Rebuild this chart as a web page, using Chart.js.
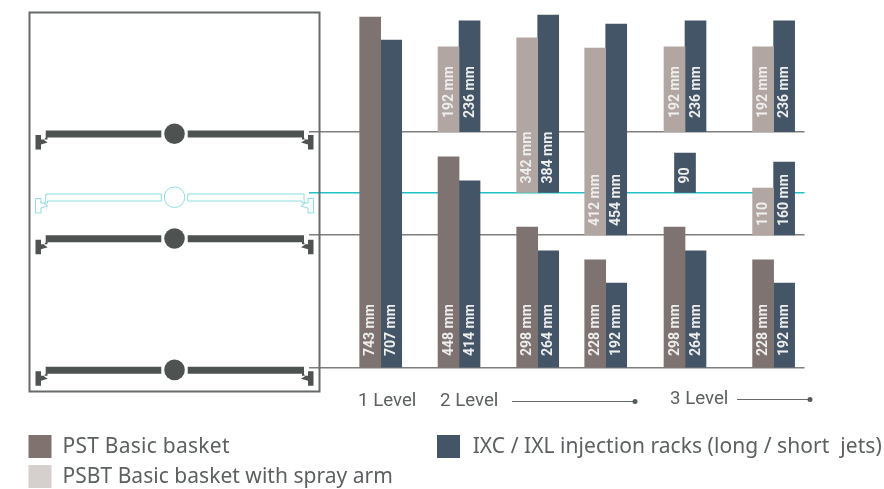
<!DOCTYPE html>
<html>
<head>
<meta charset="utf-8">
<style>
  html, body { margin: 0; padding: 0; background: #fff; }
  canvas { display: block; }
</style>
<script src="https://cdn.jsdelivr.net/npm/chart.js@4"></script>
</head>
<body>
<canvas id="myChart" width="884" height="489"></canvas>
<script>
// where each rack combination sits along the axis, in bar widths
var groupAt = [0, 3.73, 7.476, 10.714, 14.49, 18.71];

// basket levels (mm from the rack floor)
var levels = [0, 281.5, 371.5, 500.5];

// lower tier, standing on the floor
var pstTop = [743, 447, 298.5, 229, 298.5, 229];
var pstLabels = ['743 mm', '448 mm', '298 mm', '228 mm', '298 mm', '228 mm'];
var ixcLowTop = [694, 396, 248, 180, 248, 180];
var ixcLowLabels = ['707 mm', '414 mm', '264 mm', '192 mm', '264 mm', '192 mm'];

// upper tier
var psbtUpFrom = [null, 500.5, 371.5, 281.5, 500.5, 500.5];
var psbtUpTop = [null, 680, 699, 677, 680, 680];
var psbtUpLabels = ['', '192 mm', '342 mm', '412 mm', '192 mm', '192 mm'];
var ixcUpFrom = [null, 500.5, 371.5, 281.5, 500.5, 500.5];
var ixcUpTop = [null, 735, 747, 728, 735, 735];
var ixcUpLabels = ['', '236 mm', '384 mm', '454 mm', '236 mm', '236 mm'];

// middle tier of the 3 level racks
var psbtMidFrom = [null, null, null, null, null, 281.5];
var psbtMidTop = [null, null, null, null, null, 381];
var psbtMidLabels = ['', '', '', '', '', '110'];
var ixcMidFrom = [null, null, null, null, 371.5, 281.5];
var ixcMidTop = [null, null, null, null, 455, 436];
var ixcMidLabels = ['', '', '', '', '90', '160 mm'];

var pstColor = '#7e7370';
var psbtColor = '#b1a6a1';
var ixcColor = '#435567';
var textColor = '#5c6061';
var basketColor = '#4e5352';
var cyan = '#1fc1c7';

function rows(from, top, labels, side) {
  var out = [];
  for (var i = 0; i < top.length; i++) {
    if (top[i] == null) continue;
    var s = typeof side == 'function' ? side(i) : side;
    out.push({ x: groupAt[i] + s, y: [from ? from[i] : 0, top[i]], label: labels[i] });
  }
  return out;
}

function tierSet(name, color, data) {
  return { label: name, data: data, backgroundColor: color, borderWidth: 0, barThickness: 21, grouped: false };
}

// one basket drawn from its top edge
function basket(ctx, y, outline) {
  var parts = [
    [[45.7, y], [161.3, y], [161.3, y + 7], [47.5, y + 7], [47.5, y + 9], [41, y + 9], [41, y + 4.5], [35.5, y + 4.5], [35.5, y + 19], [41, y + 19], [41, y + 14], [47.7, y + 12], [44, y + 9.5], [45.7, y + 7]],
    [[304, y], [187.7, y], [187.7, y + 7], [302, y + 7], [302, y + 9], [308, y + 9], [308, y + 4.5], [313.5, y + 4.5], [313.5, y + 19], [308, y + 19], [308, y + 14], [301, y + 12], [305, y + 9.5], [304, y + 7]]
  ];
  ctx.save();
  parts.forEach(function (p) {
    ctx.beginPath();
    p.forEach(function (pt, i) { i ? ctx.lineTo(pt[0], pt[1]) : ctx.moveTo(pt[0], pt[1]); });
    ctx.closePath();
    if (outline) { ctx.strokeStyle = '#8fdde0'; ctx.lineWidth = 1; ctx.stroke(); }
    else { ctx.fillStyle = basketColor; ctx.fill(); }
  });
  ctx.beginPath();
  ctx.arc(174.5, y + 3.2, 10.3, 0, Math.PI * 2);
  if (outline) { ctx.strokeStyle = '#8fdde0'; ctx.lineWidth = 1; ctx.stroke(); }
  else { ctx.fillStyle = basketColor; ctx.fill(); }
  ctx.restore();
}

function leader(ctx, x1, x2, y) {
  ctx.strokeStyle = '#666a69';
  ctx.lineWidth = 1;
  ctx.beginPath();
  ctx.moveTo(x1, y);
  ctx.lineTo(x2, y);
  ctx.stroke();
  ctx.fillStyle = '#555a5a';
  ctx.beginPath();
  ctx.arc(x2, y, 2.5, 0, Math.PI * 2);
  ctx.fill();
}

function legendRow(ctx, color, x, y, text, textX, spacing) {
  ctx.fillStyle = color;
  ctx.fillRect(x, y, 23, 23);
  ctx.fillStyle = textColor;
  ctx.font = '21px "Noto Sans"';
  ctx.letterSpacing = spacing;
  ctx.fillText(text, textX, y + 18);
  ctx.letterSpacing = '0px';
}

// rack drawing, bar captions, level labels and legend
var extras = {
  id: 'extras',
  afterDatasetsDraw: function (chart) {
    var ctx = chart.ctx;
    var yScale = chart.scales.y;

    ctx.save();
    ctx.strokeStyle = '#666a69';
    ctx.lineWidth = 2;
    ctx.strokeRect(29.5, 12.5, 290, 379);
    basket(ctx, yScale.getPixelForValue(levels[3]) - 1);
    basket(ctx, yScale.getPixelForValue(levels[2]) + 1.5, true);
    basket(ctx, yScale.getPixelForValue(levels[1]) + 0.3);
    basket(ctx, yScale.getPixelForValue(levels[0]) - 1.3);

    // rotated captions inside the bars
    ctx.font = 'bold 14px Roboto';
    ctx.fillStyle = '#eeeeee';
    ctx.textAlign = 'left';
    ctx.textBaseline = 'middle';
    chart.data.datasets.forEach(function (set, d) {
      chart.getDatasetMeta(d).data.forEach(function (bar, i) {
        var from = set.data[i].y[0];
        var lift = from == 0 ? 12 : (from == 500.5 ? 13.5 : 9);
        ctx.save();
        ctx.translate(bar.x + 0.5, yScale.getPixelForValue(from) - lift);
        ctx.rotate(-Math.PI / 2);
        ctx.fillText(set.data[i].label, 0, 0);
        ctx.restore();
      });
    });

    ctx.textBaseline = 'alphabetic';
    ctx.fillStyle = textColor;
    ctx.font = '18.7px Roboto';
    ctx.fillText('1 Level', 358, 406);
    ctx.fillText('2 Level', 440, 406);
    ctx.fillText('3 Level', 670, 404);
    leader(ctx, 512, 635, 401.5);
    leader(ctx, 737, 810, 399.5);

    legendRow(ctx, '#80736f', 28.5, 435, 'PST Basic basket', 62.5, '0.25px');
    legendRow(ctx, '#d5cfcd', 28.5, 465, 'PSBT Basic basket with spray arm', 62.5, '0.03px');
    legendRow(ctx, ixcColor, 437, 435, 'IXC / IXL injection racks (long / short  jets)', 472.7, '0.05px');
    ctx.restore();
  }
};

new Chart(document.getElementById('myChart').getContext('2d'), {
  type: 'bar',
  data: {
    datasets: [
      tierSet('PST Basic basket', pstColor, rows(null, pstTop, pstLabels, -0.5)),
      tierSet('IXC / IXL lower', ixcColor, rows(null, ixcLowTop, ixcLowLabels, 0.5)),
      tierSet('PSBT upper', psbtColor, rows(psbtUpFrom, psbtUpTop, psbtUpLabels, -0.5)),
      tierSet('IXC / IXL upper', ixcColor, rows(ixcUpFrom, ixcUpTop, ixcUpLabels, 0.5)),
      tierSet('PSBT middle', psbtColor, rows(psbtMidFrom, psbtMidTop, psbtMidLabels, -0.5)),
      tierSet('IXC / IXL middle', ixcColor, rows(ixcMidFrom, ixcMidTop, ixcMidLabels, function (i) {
        return psbtMidTop[i] == null ? 0 : 0.5;
      }))
    ]
  },
  options: {
    responsive: false,
    animation: false,
    layout: { padding: { left: 309, right: 79.5, top: 0, bottom: 121 } },
    plugins: { legend: { display: false }, tooltip: { enabled: false } },
    scales: {
      x: { type: 'linear', display: false, offset: false, min: -3.414, max: 20.18 },
      y: {
        min: 0,
        max: 779,
        afterBuildTicks: function (scale) {
          scale.ticks = levels.map(function (v) { return { value: v }; });
        },
        ticks: { display: false },
        border: { display: false },
        grid: {
          drawTicks: false,
          lineWidth: 1.5,
          color: function (c) { return c.tick && c.tick.value == levels[2] ? cyan : '#7f7f7f'; }
        }
      }
    }
  },
  plugins: [extras]
});
</script>
</body>
</html>
